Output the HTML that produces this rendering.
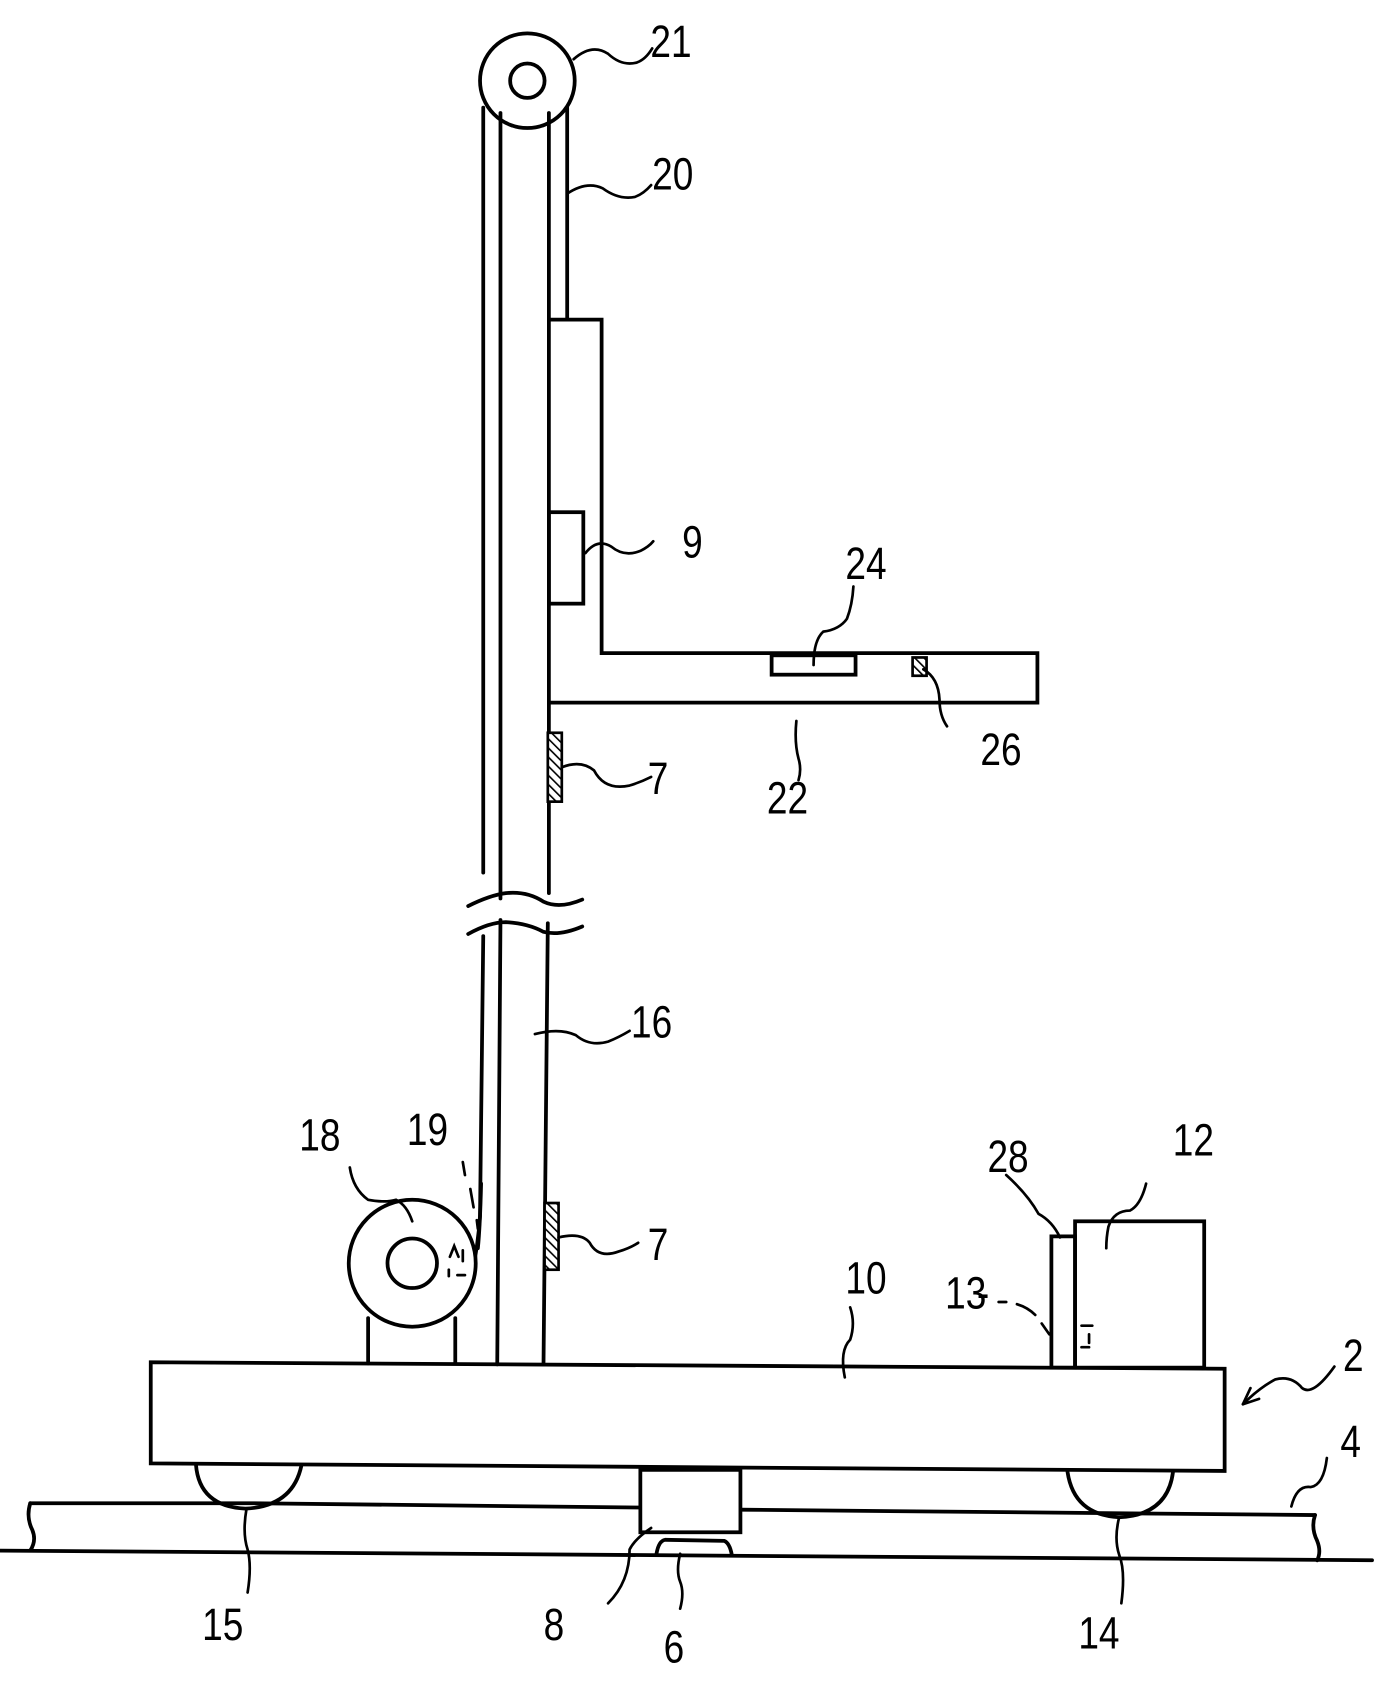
<!DOCTYPE html>
<html><head><style>
html,body{margin:0;padding:0;background:#fff;}
svg{display:block;}
text{font-family:"Liberation Sans",sans-serif;font-size:42px;fill:#000;}
</style></head><body>
<svg width="1384" height="1684" viewBox="0 0 1286 1565" xmlns="http://www.w3.org/2000/svg">
<defs>
<pattern id="h" width="6" height="6" patternUnits="userSpaceOnUse" patternTransform="rotate(-45)">
<rect width="6" height="6" fill="#fff"/><line x1="0" y1="0" x2="0" y2="6" stroke="#000" stroke-width="3"/>
</pattern>
</defs>
<g fill="none" stroke="#000" stroke-width="3.5" stroke-linecap="round">
<circle cx="490" cy="75" r="44" fill="#fff"/>
<circle cx="490" cy="75" r="16"/>
<line x1="449" y1="100" x2="449" y2="811"/>
<path d="M449 870 L446 1130 Q444 1160 438 1185"/>
<line x1="465" y1="105" x2="465" y2="835"/>
<line x1="465" y1="855" x2="462" y2="1268"/>
<line x1="510" y1="105" x2="510" y2="830"/>
<line x1="509" y1="858" x2="505" y2="1268"/>
<line x1="527" y1="100" x2="527" y2="297"/>
<path d="M435 842 Q455 832 470 830 Q490 828 505 838 Q520 845 541 836"/>
<path d="M435 868 Q455 857 470 857 Q490 858 505 866 Q520 870 541 861"/>
<path d="M510 297 L559 297 L559 607 L964 607 L964 653 L510 653"/>
<rect x="510" y="476" width="32" height="85"/>
<rect x="717" y="609" width="78" height="18"/>
<rect x="848" y="611" width="13" height="17" fill="url(#h)" stroke-width="2.5"/>
<rect x="509" y="681" width="13" height="64" fill="url(#h)" stroke-width="2.5"/>
<rect x="506" y="1118" width="13" height="62" fill="url(#h)" stroke-width="2.5"/>
<line x1="342" y1="1225" x2="342" y2="1267"/>
<line x1="423" y1="1225" x2="423" y2="1267"/>
<circle cx="383" cy="1174" r="59" fill="#fff"/>
<circle cx="383" cy="1174" r="23"/>
<path d="M444 1160 Q446 1140 447 1100" />
<path d="M418 1168 L422 1158 L426 1168 M430 1162 L430 1172 M417 1180 L417 1186 M425 1185 L432 1185" stroke-width="2.5"/>
<path d="M140 1266 L1138 1272 L1138 1367 L140 1360 Z"/>
<path d="M182 1361 Q185 1400 228 1402 Q272 1400 280 1362"/>
<path d="M992 1368 Q998 1408 1040 1410 Q1085 1408 1090 1368"/>
<path d="M28 1397 L232 1397 L595 1401"/>
<path d="M688 1403 L1222 1408"/>
<path d="M28 1397 Q24 1410 30 1422 Q34 1432 28 1441"/>
<path d="M1222 1408 Q1218 1420 1224 1432 Q1228 1442 1224 1450"/>
<line x1="0" y1="1441" x2="1275" y2="1450"/>
<rect x="595" y="1366" width="93" height="58" fill="#fff"/>
<path d="M610 1444 Q612 1432 618 1431 L673 1432 Q678 1434 680 1445"/>
<rect x="977" y="1149" width="22" height="122"/>
<rect x="999" y="1135" width="120" height="136"/>
<path d="M1005 1232 L1015 1232 M1012 1240 L1012 1248 M1005 1252 L1012 1252" stroke-width="2.5"/>
</g>
<g fill="none" stroke="#000" stroke-width="2.5" stroke-linecap="round">
<path d="M533 55 Q550 40 565 50 Q578 62 592 58 Q600 55 606 45"/>
<path d="M527 180 Q545 168 560 175 Q575 186 590 183 Q598 180 605 172"/>
<path d="M544 514 Q555 500 568 508 Q580 518 595 512 Q603 508 607 503"/>
<path d="M756 618 Q756 595 765 587 Q780 585 787 575 Q792 562 793 545"/>
<path d="M740 670 Q738 690 742 705 Q745 715 742 725"/>
<path d="M858 622 Q872 630 873 650 Q873 665 880 675"/>
<path d="M522 713 Q540 706 552 716 Q562 735 585 730 Q595 727 605 722"/>
<path d="M497 961 Q520 955 535 962 Q548 973 565 968 Q575 964 585 958"/>
<path d="M519 1150 Q540 1145 548 1155 Q556 1170 575 1163 Q585 1160 593 1155"/>
<path d="M325 1085 Q328 1105 342 1115 Q358 1118 368 1115 Q378 1120 383 1135"/>
<path d="M430 1080 L432 1092 M437 1105 L440 1122 M443 1134 L444 1142" />
<path d="M935 1092 Q955 1110 965 1128 Q978 1135 985 1150"/>
<path d="M1065 1100 Q1060 1120 1050 1125 Q1035 1125 1030 1140 Q1028 1150 1028 1160"/>
<path d="M928 1210 L935 1210 M945 1212 Q955 1215 962 1222 M968 1230 L975 1240" />
<path d="M790 1215 Q795 1230 790 1245 Q780 1255 785 1280"/>
<path d="M1155 1305 Q1170 1290 1185 1282 Q1200 1278 1210 1290 Q1220 1298 1240 1270"/>
<path d="M1155 1305 L1162 1290 M1155 1305 L1170 1300"/>
<path d="M1233 1355 Q1230 1380 1218 1382 Q1205 1380 1200 1400"/>
<path d="M229 1402 Q225 1425 230 1440 Q234 1455 230 1480"/>
<path d="M1040 1410 Q1035 1430 1040 1445 Q1046 1460 1042 1490"/>
<path d="M605 1420 Q590 1430 585 1440 Q585 1470 565 1490"/>
<path d="M632 1444 Q628 1460 632 1470 Q636 1480 632 1495"/>
</g>
<g transform="scale(0.82,1)">
<text x="737" y="53">21</text>
<text x="739" y="176">20</text>
<text x="773" y="518">9</text>
<text x="958" y="538">24</text>
<text x="1111" y="711">26</text>
<text x="869" y="756">22</text>
<text x="734" y="738">7</text>
<text x="715" y="964">16</text>
<text x="339" y="1069">18</text>
<text x="461" y="1064">19</text>
<text x="734" y="1171">7</text>
<text x="1119" y="1089">28</text>
<text x="1329" y="1074">12</text>
<text x="958" y="1202">10</text>
<text x="1071" y="1216">13</text>
<text x="1107" y="1216">-</text>
<text x="1522" y="1274">2</text>
<text x="1519" y="1354">4</text>
<text x="229" y="1524">15</text>
<text x="616" y="1524">8</text>
<text x="752" y="1545">6</text>
<text x="1222" y="1532">14</text>
</g>
</svg>
</body></html>
